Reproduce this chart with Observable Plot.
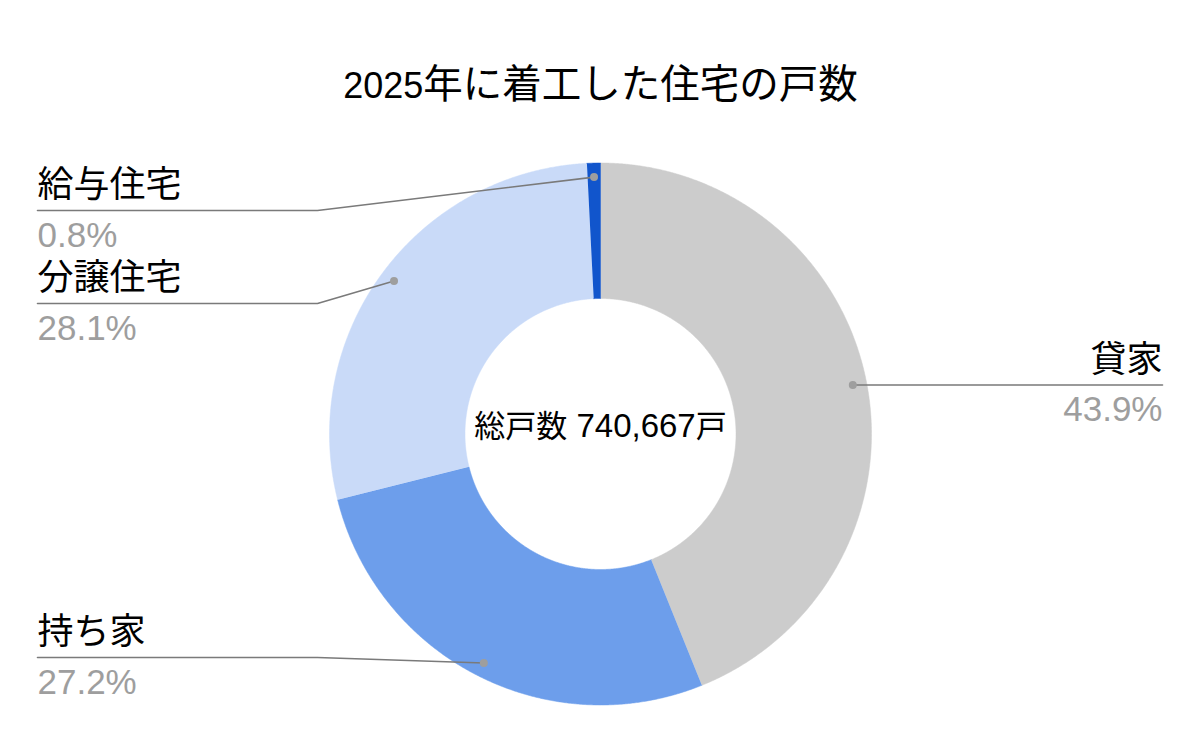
<!DOCTYPE html>
<html><head><meta charset="utf-8">
<script src="https://cdn.jsdelivr.net/npm/d3@7"></script>
<script src="https://cdn.jsdelivr.net/npm/@observablehq/plot@0.6"></script>
<style>body{margin:0;background:#fff}</style>
</head><body><div id="chart"></div>
<script>
// ---- data ----
const title = "2025年に着工した住宅の戸数";
const categories = ["貸家", "持ち家", "分譲住宅", "給与住宅"];
const counts = [325153, 201461, 208128, 5925];
const totalLabel = "総戸数 740,667戸";
const colors = ["#cccccc", "#6d9eeb", "#c9daf8", "#1155cc"];

// ---- layout (pixels relative to donut centre, y up) ----
const R = 271, R0 = 135.5, rDot = 257;
const side = {"貸家": "right", "持ち家": "left", "分譲住宅": "left", "給与住宅": "left"};
const lineY = {"持ち家": -223.5, "分譲住宅": 130.5, "給与住宅": 223.5};
const elbowX = -283, leftX = -563, rightX = 562;

const total = d3.sum(counts);
const arcs = d3.pie().sort(null).value(d => d.count)(categories.map((c, i) => ({name: c, count: counts[i]})));

const poly = [];
for (const a of arcs) {
  const n = Math.max(2, Math.ceil((a.endAngle - a.startAngle) / 0.005));
  for (let k = 0; k <= n; k++) {
    const t = a.startAngle + (a.endAngle - a.startAngle) * k / n;
    poly.push({name: a.data.name, x: R * Math.sin(t), y: R * Math.cos(t)});
  }
  for (let k = n; k >= 0; k--) {
    const t = a.startAngle + (a.endAngle - a.startAngle) * k / n;
    poly.push({name: a.data.name, x: R0 * Math.sin(t), y: R0 * Math.cos(t)});
  }
}

const leaders = [], dots = [], labels = [];
for (const a of arcs) {
  const name = a.data.name;
  const mid = (a.startAngle + a.endAngle) / 2;
  const dx = rDot * Math.sin(mid), dy = rDot * Math.cos(mid);
  dots.push({name, x: dx, y: dy});
  const pct = (a.data.count / total * 100).toFixed(1) + "%";
  if (side[name] === "right") {
    leaders.push({name, x: dx, y: dy}, {name, x: rightX, y: dy});
    labels.push({name, pct, x: rightX, y: dy, anchor: "end"});
  } else {
    const ly = lineY[name];
    leaders.push({name, x: dx, y: dy}, {name, x: elbowX, y: ly}, {name, x: leftX, y: ly});
    labels.push({name, pct, x: leftX, y: ly, anchor: "start"});
  }
}
const leftLabels = labels.filter(d => d.anchor === "start");
const rightLabels = labels.filter(d => d.anchor === "end");

const font = "'Liberation Sans', Arial, 'Noto Sans CJK JP', sans-serif";

const chart = Plot.plot({
  width: 1200, height: 742, margin: 0,
  style: {fontFamily: font, background: "#fff"},
  x: {domain: [-600, 600], axis: null},
  y: {domain: [-308.5, 433.5], axis: null},
  color: {domain: categories, range: colors},
  marks: [
    Plot.line(poly, {x: "x", y: "y", z: "name", fill: "name", stroke: "name", strokeWidth: 0.5, curve: "linear"}),
    Plot.line(leaders, {x: "x", y: "y", z: "name", stroke: "#7a7a7a", strokeWidth: 1.6, curve: "linear"}),
    Plot.dot(dots, {x: "x", y: "y", r: 4, fill: "#9e9e9e", stroke: null}),
    Plot.text(leftLabels, {x: "x", y: d => d.y + 25, text: "name", textAnchor: "start", fontSize: 36, fill: "#000", lineAnchor: "middle"}),
    Plot.text(leftLabels, {x: "x", y: d => d.y - 25, text: "pct", textAnchor: "start", fontSize: 35, fill: "#9e9e9e", lineAnchor: "middle"}),
    Plot.text(rightLabels, {x: "x", y: d => d.y + 25, text: "name", textAnchor: "end", fontSize: 36, fill: "#000", lineAnchor: "middle"}),
    Plot.text(rightLabels, {x: "x", y: d => d.y - 25, text: "pct", textAnchor: "end", fontSize: 35, fill: "#9e9e9e", lineAnchor: "middle"}),
    Plot.text([totalLabel], {x: () => 0, y: () => 7, text: d => d, fontSize: 31, fill: "#000", lineAnchor: "middle", className: "mix-total"}),
    Plot.text([title], {x: () => 0, y: () => 348.5, text: d => d, fontSize: 39.5, fill: "#000", lineAnchor: "middle", className: "mix-title"})
  ]
});

// mixed sizes: Latin digits vs CJK glyphs, as in the reference rendering
function mixSizes(root, cls, asciiSize, cjkSize) {
  root.querySelectorAll("." + cls + " text").forEach(t => {
    const s = t.textContent;
    t.textContent = "";
    for (const run of s.match(/[\x00-\x7F]+|[^\x00-\x7F]+/g)) {
      const ts = document.createElementNS("http://www.w3.org/2000/svg", "tspan");
      ts.setAttribute("font-size", /[\x00-\x7F]/.test(run[0]) ? asciiSize : cjkSize);
      ts.textContent = run;
      t.appendChild(ts);
    }
  });
}
mixSizes(chart, "mix-title", 36, 39.5);
mixSizes(chart, "mix-total", 33, 31);

document.getElementById("chart").appendChild(chart);
</script>
</body></html>
